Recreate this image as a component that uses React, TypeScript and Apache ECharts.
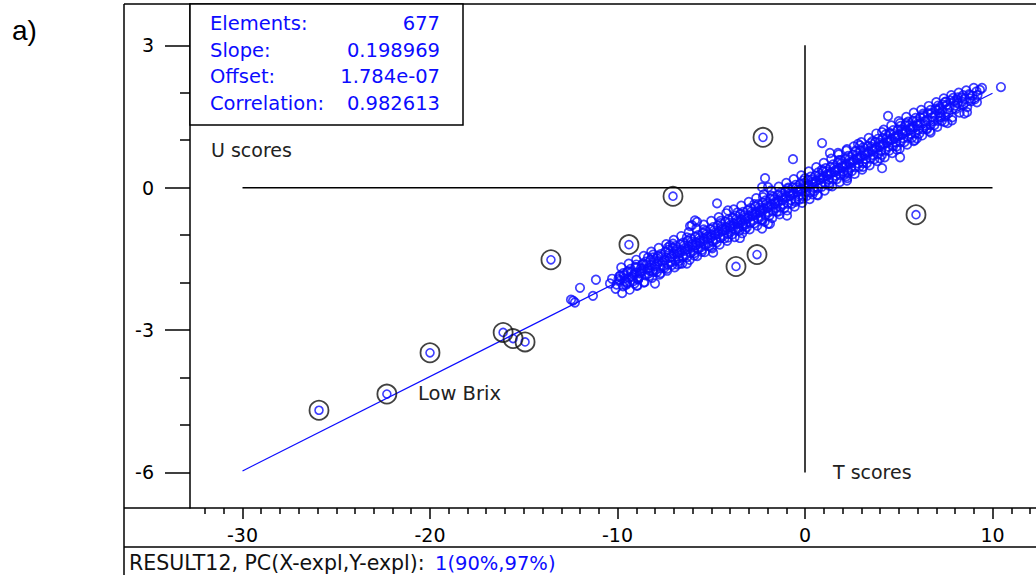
import React, { useEffect, useRef } from "react";
import * as echarts from "echarts";

// ---- axis ticks ----
const X_MAJOR = [-30, -20, -10, 0, 10];
const X_MINOR = [-32, -31, -29, -28, -27, -26, -25, -24, -23, -22, -21, -19, -18, -17, -16, -15, -14, -13, -12, -11, -9, -8, -7, -6, -5, -4, -3, -2, -1, 1, 2, 3, 4, 5, 6, 7, 8, 9, 11, 12];
const Y_MAJOR = [-6, -3, 0, 3];
const Y_MINOR = [-5, -4, -2, -1, 1, 2];

// ---- stats ----
const STAT_NAMES = ["Elements:", "Slope:", "Offset:", "Correlation:"];
const STAT_VALUES = ["677", "0.198969", "1.784e-07", "0.982613"];

// ---- regression line ----
const LINE_T = [-30, 10];
const LINE_U = [-5.969, 1.99];

// ---- zero axes ----
const HLINE_T = [-30, 10];
const VLINE_U = [3, -6];

// ---- marked (ringed) samples ----
const RING_T = [-2.24, -7.04, 5.92, -9.39, -13.55, -2.56, -3.68, -16.1, -15.57, -14.93, -20.0, -22.3, -25.92];
const RING_U = [1.06, -0.18, -0.57, -1.2, -1.52, -1.41, -1.66, -3.05, -3.18, -3.25, -3.48, -4.35, -4.69];

// ---- scattered samples ----
const LOOSE: [number, number][] = [
  [-12.0, -2.11], [-12.37, -2.38], [-12.27, -2.42], [-12.48, -2.36], [-11.31, -2.28], [-11.15, -1.94],
  [-10.4, -2.02], [-10.29, -1.92], [-9.87, -1.96], [-9.49, -1.79], [-9.49, -2.02], [-8.96, -2.07],
  [-8.96, -1.68], [-8.37, -1.47], [-8.0, -2.02], [-7.89, -1.49], [-7.31, -1.26], [-7.04, -1.18],
  [-6.03, -0.79], [-5.87, -0.69], [-4.69, -0.33], [-4.11, -0.48], [-5.76, -0.72], [-6.13, -0.81],
  [-2.29, -0.86], [-1.97, -0.76], [-3.47, -1.06], [-0.96, -0.59], [-3.31, -0.76], [-3.84, -0.86],
  [-1.87, -0.76], [-2.13, 0.2], [-2.29, 0.01], [-1.97, 0.01], [-2.24, -0.2], [-0.64, 0.6],
  [0.91, 0.94], [1.33, 0.73], [1.76, 0.73], [2.24, 0.81], [2.83, 0.92], [0.69, -0.16],
  [-0.11, -0.23], [2.24, 0.15], [2.29, 0.3], [4.43, 1.51], [5.07, 1.36], [4.11, 1.17],
  [2.93, 0.89], [5.07, 0.64], [4.11, 0.41], [5.97, 1.04], [6.51, 1.25], [7.04, 1.63],
  [7.2, 1.48], [7.47, 1.8], [7.84, 1.42], [8.16, 1.78], [8.43, 1.95], [8.64, 1.59],
  [9.17, 1.8], [8.8, 1.95], [9.33, 2.06], [9.44, 2.1], [10.45, 2.12], [-4.9, -1.37],
  [-5.5, -1.35], [-6.67, -1.6], [-6.3, -1.6], [-7.36, -1.71], [-8.27, -1.75], [-8.8, -1.79],
];

// ---- dense band of samples (inner part) ----
const CORE: [number, number][] = [
  [-10.05, -2.04], [-9.95, -1.93], [-10.1, -2.13], [-9.9, -1.87],
  [-9.6, -1.97], [-9.65, -1.85], [-9.55, -2.05], [-9.7, -1.8],
  [-9.2, -1.88], [-9.25, -1.78], [-9.15, -1.97], [-9.3, -1.71], [-9.1, -2.02],
  [-8.8, -1.81], [-8.75, -1.7], [-8.85, -1.89], [-8.7, -1.63], [-8.9, -1.93],
  [-8.4, -1.72], [-8.45, -1.62], [-8.35, -1.81], [-8.5, -1.56], [-8.3, -1.86],
  [-8.0, -1.65], [-8.05, -1.54], [-7.95, -1.73], [-8.1, -1.47], [-7.9, -1.78],
  [-7.6, -1.56], [-7.65, -1.46], [-7.55, -1.65], [-7.7, -1.4], [-7.5, -1.69],
  [-7.2, -1.48], [-7.25, -1.38], [-7.15, -1.57], [-7.3, -1.31], [-7.1, -1.63],
  [-6.8, -1.4], [-6.85, -1.3], [-6.75, -1.49], [-6.9, -1.23], [-6.7, -1.54], [-6.8, -1.35],
  [-6.4, -1.33], [-6.45, -1.22], [-6.35, -1.41], [-6.5, -1.16], [-6.3, -1.47], [-6.4, -1.27],
  [-6.0, -1.24], [-6.05, -1.14], [-5.95, -1.33], [-6.1, -1.07], [-5.9, -1.38], [-6.0, -1.19],
  [-5.6, -1.16], [-5.65, -1.06], [-5.55, -1.25], [-5.7, -1.0], [-5.5, -1.31], [-5.6, -1.11],
  [-5.2, -1.08], [-5.25, -0.98], [-5.15, -1.17], [-5.3, -0.91], [-5.1, -1.23], [-5.2, -1.03],
  [-4.8, -1.0], [-4.85, -0.9], [-4.75, -1.09], [-4.9, -0.83], [-4.7, -1.15], [-4.8, -0.95],
  [-4.4, -0.92], [-4.45, -0.82], [-4.35, -1.01], [-4.5, -0.75], [-4.3, -1.07], [-4.4, -0.87],
  [-4.0, -0.84], [-4.05, -0.74], [-3.95, -0.93], [-4.1, -0.67], [-3.9, -0.99], [-4.0, -0.79],
  [-3.6, -0.76], [-3.65, -0.66], [-3.55, -0.85], [-3.7, -0.59], [-3.5, -0.91], [-3.6, -0.71],
  [-3.2, -0.68], [-3.25, -0.58], [-3.15, -0.77], [-3.3, -0.51], [-3.1, -0.83], [-3.2, -0.63],
  [-2.8, -0.6], [-2.85, -0.5], [-2.75, -0.69], [-2.9, -0.43], [-2.7, -0.75], [-2.8, -0.55],
  [-2.4, -0.52], [-2.45, -0.42], [-2.35, -0.61], [-2.5, -0.35], [-2.3, -0.67], [-2.4, -0.47],
  [-2.0, -0.43], [-2.05, -0.34], [-1.95, -0.52], [-2.1, -0.27], [-1.9, -0.59], [-2.0, -0.39],
  [-1.6, -0.34], [-1.65, -0.25], [-1.55, -0.43], [-1.7, -0.19], [-1.5, -0.51], [-1.6, -0.3],
  [-1.2, -0.26], [-1.25, -0.17], [-1.15, -0.35], [-1.3, -0.11], [-1.1, -0.43], [-1.2, -0.21],
  [-0.8, -0.17], [-0.85, -0.08], [-0.75, -0.26], [-0.9, -0.02], [-0.7, -0.34], [-0.8, -0.12],
  [-0.4, -0.09], [-0.45, 0.0], [-0.35, -0.18], [-0.5, 0.06], [-0.3, -0.25], [-0.4, -0.04],
  [0.0, 0.0], [-0.05, 0.09], [0.05, -0.09], [-0.1, 0.15], [0.1, -0.17], [0.0, 0.04],
  [0.4, 0.08], [0.35, 0.17], [0.45, 0.0], [0.3, 0.23], [0.5, -0.07], [0.4, 0.12],
  [0.8, 0.17], [0.75, 0.26], [0.85, 0.09], [0.7, 0.32], [0.9, 0.02], [0.8, 0.21],
  [1.2, 0.25], [1.15, 0.34], [1.25, 0.17], [1.1, 0.41], [1.3, 0.1], [1.2, 0.29],
  [1.6, 0.33], [1.55, 0.42], [1.65, 0.25], [1.5, 0.49], [1.7, 0.18], [1.6, 0.37],
  [2.0, 0.42], [1.95, 0.51], [2.05, 0.34], [1.9, 0.58], [2.1, 0.27], [2.0, 0.46],
  [2.4, 0.5], [2.35, 0.59], [2.45, 0.42], [2.3, 0.67], [2.5, 0.35], [2.4, 0.54],
  [2.8, 0.59], [2.75, 0.68], [2.85, 0.51], [2.7, 0.76], [2.9, 0.44], [2.8, 0.63],
  [3.2, 0.68], [3.15, 0.77], [3.25, 0.6], [3.1, 0.85], [3.3, 0.52], [3.2, 0.72],
  [3.6, 0.77], [3.55, 0.86], [3.65, 0.68], [3.5, 0.94], [3.7, 0.6], [3.6, 0.81],
  [4.0, 0.86], [3.95, 0.95], [4.05, 0.77], [3.9, 1.03], [4.1, 0.69], [4.0, 0.9],
  [4.4, 0.95], [4.35, 1.04], [4.45, 0.86], [4.3, 1.12], [4.5, 0.78], [4.4, 0.99],
  [4.8, 1.04], [4.75, 1.13], [4.85, 0.95], [4.7, 1.21], [4.9, 0.87], [4.8, 1.08],
  [5.2, 1.13], [5.15, 1.22], [5.25, 1.04], [5.1, 1.3], [5.3, 0.96], [5.2, 1.17],
  [5.6, 1.22], [5.55, 1.31], [5.65, 1.13], [5.5, 1.39], [5.7, 1.05], [5.6, 1.26],
  [6.0, 1.31], [5.95, 1.4], [6.05, 1.22], [5.9, 1.47], [6.1, 1.14], [6.0, 1.35],
  [6.4, 1.4], [6.35, 1.49], [6.45, 1.31], [6.3, 1.56], [6.5, 1.23],
  [6.8, 1.48], [6.75, 1.57], [6.85, 1.4], [6.7, 1.64], [6.9, 1.32],
  [7.2, 1.57], [7.15, 1.66], [7.25, 1.49], [7.1, 1.73], [7.3, 1.41],
  [7.6, 1.65], [7.55, 1.74], [7.65, 1.57], [7.5, 1.81],
  [8.0, 1.73], [7.95, 1.82], [8.05, 1.66], [7.9, 1.89],
  [8.4, 1.81], [8.35, 1.9], [8.45, 1.75],
  [8.8, 1.88], [8.75, 1.97], [8.85, 1.82],
  [9.2, 1.95], [9.15, 2.03],
];

// ---- dense band of samples (outer part) ----
const EDGE: [number, number][] = [
  [-9.8, -1.68], [-9.75, -2.22], [-9.85, -1.85], [-9.7, -2.08],
  [-9.4, -1.6], [-9.35, -2.15], [-9.45, -1.76], [-9.5, -2.0], [-9.4, -1.9],
  [-9.0, -1.52], [-8.95, -2.06], [-9.05, -1.67], [-8.9, -1.93], [-9.0, -1.79],
  [-8.6, -1.44], [-8.55, -1.99], [-8.65, -1.6], [-8.5, -1.85], [-8.6, -1.7],
  [-8.2, -1.35], [-8.15, -1.9], [-8.25, -1.52], [-8.1, -1.78], [-8.2, -1.63],
  [-7.8, -1.27], [-7.75, -1.83], [-7.85, -1.44], [-7.7, -1.7], [-7.8, -1.55],
  [-7.4, -1.19], [-7.35, -1.75], [-7.45, -1.35], [-7.3, -1.62], [-7.4, -1.47],
  [-7.0, -1.1], [-6.95, -1.68], [-7.05, -1.27], [-6.9, -1.54], [-7.0, -1.39],
  [-6.6, -1.02], [-6.55, -1.6], [-6.65, -1.2], [-6.5, -1.46], [-6.6, -1.31],
  [-6.2, -0.94], [-6.15, -1.52], [-6.25, -1.12], [-6.1, -1.38], [-6.2, -1.23],
  [-5.8, -0.86], [-5.75, -1.44], [-5.85, -1.04], [-5.7, -1.3], [-5.8, -1.15],
  [-5.4, -0.78], [-5.35, -1.36], [-5.45, -0.96], [-5.3, -1.22], [-5.4, -1.07],
  [-5.0, -0.7], [-4.95, -1.28], [-5.05, -0.88], [-4.9, -1.14], [-5.0, -0.99],
  [-4.6, -0.62], [-4.55, -1.2], [-4.65, -0.8], [-4.5, -1.06], [-4.6, -0.91],
  [-4.2, -0.54], [-4.15, -1.12], [-4.25, -0.72], [-4.1, -0.98], [-4.2, -0.83],
  [-3.8, -0.46], [-3.75, -1.04], [-3.85, -0.64], [-3.7, -0.9], [-3.8, -0.75],
  [-3.4, -0.38], [-3.35, -0.96], [-3.45, -0.56], [-3.3, -0.82], [-3.4, -0.67],
  [-3.0, -0.3], [-2.95, -0.88], [-3.05, -0.48], [-2.9, -0.74], [-3.0, -0.59],
  [-2.6, -0.22], [-2.55, -0.8], [-2.65, -0.4], [-2.5, -0.66], [-2.6, -0.51],
  [-2.2, -0.14], [-2.15, -0.72], [-2.25, -0.32], [-2.1, -0.58], [-2.2, -0.43],
  [-1.8, -0.06], [-1.75, -0.64], [-1.85, -0.24], [-1.7, -0.5], [-1.8, -0.35],
  [-1.4, 0.02], [-1.35, -0.56], [-1.45, -0.16], [-1.3, -0.42], [-1.4, -0.27],
  [-1.0, 0.1], [-0.95, -0.48], [-1.05, -0.08], [-0.9, -0.34], [-1.0, -0.19],
  [-0.6, 0.18], [-0.55, -0.4], [-0.65, 0.0], [-0.5, -0.26], [-0.6, -0.11],
  [-0.2, 0.26], [-0.15, -0.32], [-0.25, 0.08], [-0.1, -0.18], [-0.2, -0.03],
  [0.2, 0.34], [0.25, -0.24], [0.15, 0.16], [0.3, -0.1], [0.2, 0.05],
  [0.6, 0.43], [0.65, -0.15], [0.55, 0.25], [0.7, -0.01], [0.6, 0.14],
  [1.0, 0.52], [1.05, -0.06], [0.95, 0.34], [1.1, 0.08], [1.0, 0.23],
  [1.4, 0.61], [1.45, 0.03], [1.35, 0.43], [1.5, 0.17], [1.4, 0.32],
  [1.8, 0.7], [1.85, 0.12], [1.75, 0.52], [1.9, 0.26], [1.8, 0.41],
  [2.2, 0.78], [2.25, 0.2], [2.15, 0.6], [2.3, 0.34], [2.2, 0.49],
  [2.6, 0.87], [2.65, 0.29], [2.55, 0.69], [2.7, 0.43], [2.6, 0.58],
  [3.0, 0.96], [3.05, 0.38], [2.95, 0.78], [3.1, 0.52], [3.0, 0.67],
  [3.4, 1.05], [3.45, 0.47], [3.35, 0.87], [3.5, 0.61], [3.4, 0.76],
  [3.8, 1.14], [3.85, 0.56], [3.75, 0.96], [3.9, 0.7], [3.8, 0.85],
  [4.2, 1.22], [4.25, 0.64], [4.15, 1.04], [4.3, 0.78], [4.2, 0.93],
  [4.6, 1.31], [4.65, 0.73], [4.55, 1.13], [4.7, 0.87], [4.6, 1.02],
  [5.0, 1.4], [5.05, 0.82], [4.95, 1.22], [5.1, 0.96], [5.0, 1.11],
  [5.4, 1.49], [5.45, 0.91], [5.35, 1.31], [5.5, 1.05], [5.4, 1.2],
  [5.8, 1.58], [5.85, 1.0], [5.75, 1.4], [5.9, 1.14], [5.8, 1.29],
  [6.2, 1.64], [6.25, 1.1], [6.15, 1.48], [6.3, 1.23],
  [6.6, 1.72], [6.65, 1.19], [6.55, 1.57], [6.7, 1.32],
  [7.0, 1.8], [7.05, 1.28], [6.95, 1.66], [7.1, 1.41],
  [7.4, 1.88], [7.45, 1.38], [7.35, 1.75], [7.5, 1.5],
  [7.8, 1.95], [7.85, 1.48], [7.75, 1.84],
  [8.2, 2.0], [8.25, 1.58], [8.15, 1.9],
  [8.6, 2.05], [8.65, 1.7],
  [9.0, 2.1], [9.05, 1.86],
];

// ---- further samples filling the band ----
const FILL: [number, number][] = [
  [-9.62, -1.91], [-9.13, -1.83], [-8.71, -1.75], [-8.33, -1.69], [-7.87, -1.6], [-7.48, -1.53],
  [-7.12, -1.45], [-6.68, -1.37], [-6.27, -1.3], [-5.83, -1.21], [-5.41, -1.12], [-5.02, -1.05],
  [-4.63, -0.97], [-4.27, -0.89], [-3.87, -0.8], [-3.44, -0.71], [-3.07, -0.64], [-2.66, -0.55],
  [-2.27, -0.47], [-1.88, -0.39], [-1.46, -0.3], [-1.07, -0.22], [-0.68, -0.14], [-0.27, -0.06],
  [0.12, 0.03], [0.53, 0.12], [0.92, 0.2], [1.33, 0.29], [1.72, 0.38], [2.13, 0.47],
  [2.52, 0.55], [2.93, 0.64], [3.33, 0.73], [3.72, 0.82], [4.13, 0.91], [4.52, 1.0],
  [4.93, 1.09], [5.33, 1.18], [5.72, 1.27], [6.13, 1.36], [6.52, 1.44], [6.93, 1.53],
  [7.33, 1.62], [7.72, 1.7], [8.13, 1.79], [8.53, 1.87], [8.93, 1.94],
  [-9.0, -1.62], [-8.1, -1.41], [-7.2, -1.22], [-6.3, -1.05], [-5.4, -0.88], [-4.5, -0.7],
  [-3.6, -0.52], [-2.7, -0.35], [-1.8, -0.17], [-0.9, 0.0], [0.0, 0.2], [0.9, 0.38],
  [1.8, 0.58], [2.7, 0.78], [3.6, 0.98], [4.5, 1.16], [5.4, 1.36], [6.3, 1.52],
  [7.2, 1.7], [8.1, 1.86],
  [-8.6, -2.0], [-7.7, -1.8], [-6.8, -1.62], [-5.9, -1.43], [-5.0, -1.25], [-4.1, -1.05],
  [-3.2, -0.88], [-2.3, -0.69], [-1.4, -0.5], [-0.5, -0.3], [0.4, -0.14], [1.3, 0.04],
  [2.2, 0.24], [3.1, 0.44], [4.0, 0.62], [4.9, 0.8], [5.8, 0.98], [6.7, 1.16],
  [7.6, 1.36], [8.5, 1.56],
];

const BLUE = "#0c0cff";
const FONT = "DejaVu Sans";

export default function App() {
  const ref = useRef<HTMLDivElement>(null);
  useEffect(() => {
    if (!ref.current) return;
    const chart = echarts.init(ref.current, undefined, { renderer: "svg" });
    const pts = [...CORE, ...EDGE, ...FILL, ...LOOSE];
    const rings = RING_T.map((t, i) => [t, RING_U[i]]);
    const graphics: any[] = [
      { type: "line", z: 20, shape: { x1: 124, y1: 4, x2: 124, y2: 575 }, style: { stroke: "#000", lineWidth: 1.5 } },
      { type: "line", z: 20, shape: { x1: 124, y1: 4, x2: 1036, y2: 4 }, style: { stroke: "#000", lineWidth: 1.5 } },
      { type: "line", z: 20, shape: { x1: 124, y1: 508, x2: 1036, y2: 508 }, style: { stroke: "#000", lineWidth: 1.5 } },
      { type: "line", z: 20, shape: { x1: 124, y1: 547, x2: 1036, y2: 547 }, style: { stroke: "#000", lineWidth: 1.5 } },
      { type: "rect", z: 20, shape: { x: 190, y: 4, width: 273, height: 121 }, style: { fill: "#fff", stroke: "#000", lineWidth: 1.5 } },
      { type: "text", z: 21, x: 12, y: 30, style: { text: "a)", font: "28px 'Liberation Sans'", fill: "#000", verticalAlign: "middle" } },
      { type: "text", z: 21, x: 211, y: 150, style: { text: "U scores", font: `19px '${FONT}'`, fill: "#222", verticalAlign: "middle" } },
      { type: "text", z: 21, x: 833, y: 472, style: { text: "T scores", font: `19px '${FONT}'`, fill: "#222", verticalAlign: "middle" } },
      { type: "text", z: 21, x: 418, y: 393, style: { text: "Low Brix", font: `19.5px '${FONT}'`, fill: "#222", verticalAlign: "middle" } },
      { type: "text", z: 21, x: 129, y: 563, style: { text: "RESULT12, PC(X-expl,Y-expl): ", font: `20.5px '${FONT}'`, fill: "#111", verticalAlign: "middle" } },
      { type: "text", z: 21, x: 435, y: 563, style: { text: "1(90%,97%)", font: `19.5px '${FONT}'`, fill: BLUE, verticalAlign: "middle" } },
    ];
    const rowY = [23, 50, 76, 103];
    STAT_NAMES.forEach((n, i) => {
      graphics.push({ type: "text", z: 21, x: 210, y: rowY[i], style: { text: n, font: `19.5px '${FONT}'`, fill: BLUE, verticalAlign: "middle" } });
      graphics.push({ type: "text", z: 21, x: 440, y: rowY[i], style: { text: STAT_VALUES[i], font: `19.5px '${FONT}'`, fill: BLUE, verticalAlign: "middle", align: "right" } });
    });

    const axisCommon = { min: -32.8, max: 12.32 };
    const yCommon = { min: -6.75, max: 3.87 };
    chart.setOption({
      animation: false,
      backgroundColor: "#fff",
      grid: { left: 190, top: 4, right: 0, bottom: 67, containLabel: false },
      xAxis: [
        {
          type: "value", ...axisCommon, position: "bottom",
          axisLine: { show: false, onZero: false },
          splitLine: { show: false },
          axisTick: { show: true, customValues: X_MAJOR, length: 11, inside: false, lineStyle: { color: "#000", width: 1.5 } },
          axisLabel: { customValues: X_MAJOR, margin: 17, fontSize: 19, fontFamily: FONT, color: "#000" },
        },
        {
          type: "value", ...axisCommon, position: "bottom",
          axisLine: { show: false, onZero: false },
          splitLine: { show: false },
          axisTick: { show: true, customValues: X_MINOR, length: 6, inside: false, lineStyle: { color: "#000", width: 1.5 } },
          axisLabel: { show: false },
        },
      ],
      yAxis: [
        {
          type: "value", ...yCommon, position: "left",
          axisLine: { show: true, onZero: false, lineStyle: { color: "#000", width: 1.5 } },
          splitLine: { show: false },
          axisTick: { show: true, customValues: Y_MAJOR, length: 25, inside: false, lineStyle: { color: "#000", width: 1.5 } },
          axisLabel: { customValues: Y_MAJOR, margin: 36, fontSize: 19, fontFamily: FONT, color: "#000" },
        },
        {
          type: "value", ...yCommon, position: "left",
          axisLine: { show: false, onZero: false },
          splitLine: { show: false },
          axisTick: { show: true, customValues: Y_MINOR, length: 10, inside: false, lineStyle: { color: "#000", width: 1.5 } },
          axisLabel: { show: false },
        },
      ],
      graphic: graphics,
      series: [
        {
          type: "line", z: 3, symbol: "none", silent: true,
          data: LINE_T.map((t, i) => [t, LINE_U[i]]),
          lineStyle: { color: BLUE, width: 1.2 },
        },
        {
          type: "scatter", z: 4, symbol: "circle", symbolSize: 8.5,
          data: pts,
          itemStyle: { color: "rgba(0,0,0,0)", borderColor: BLUE, borderWidth: 1.7 },
        },
        {
          type: "scatter", z: 4, symbol: "circle", symbolSize: 8,
          data: rings,
          itemStyle: { color: "rgba(0,0,0,0)", borderColor: BLUE, borderWidth: 1.6 },
        },
        {
          type: "scatter", z: 5, symbol: "circle", symbolSize: 19,
          data: rings,
          itemStyle: { color: "rgba(0,0,0,0)", borderColor: "#111", borderWidth: 1.8 },
        },
        {
          type: "line", z: 6, symbol: "none", silent: true,
          data: HLINE_T.map((t) => [t, 0]),
          lineStyle: { color: "#000", width: 1.5 },
        },
        {
          type: "line", z: 6, symbol: "none", silent: true,
          data: VLINE_U.map((u) => [0, u]),
          lineStyle: { color: "#000", width: 1.5 },
        },
      ],
    });
    return () => chart.dispose();
  }, []);
  return <div ref={ref} style={{ position: "absolute", left: 0, top: 0, width: 1036, height: 575 }} />;
}
